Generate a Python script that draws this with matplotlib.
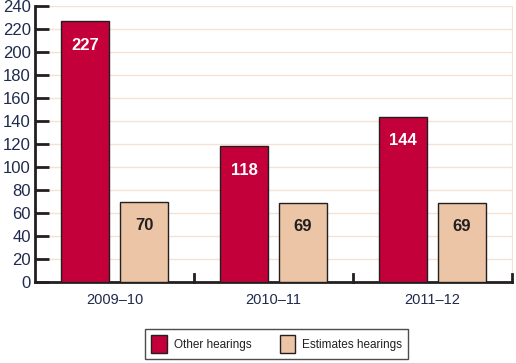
import matplotlib
matplotlib.use("Agg")
import matplotlib.pyplot as plt
import numpy as np

plt.rcParams["font.family"] = ["Liberation Sans", "DejaVu Sans"]

years = ["2009–10", "2010–11", "2011–12"]
other_hearings = [227, 118, 144]
estimates_hearings = [70, 69, 69]

RED = "#c4003a"
PEACH = "#ebc5a5"
GRID = "#f6e2d2"
DARK = "#231f20"
TEXT = "#1f2a4d"

fig = plt.figure(figsize=(5.16, 3.63), dpi=100)
ax = fig.add_axes([0.068, 0.223, 0.924, 0.760])

x = np.arange(len(years))
off, w = 0.185, 0.30
b1 = ax.bar(x - off, other_hearings, w, color=RED, edgecolor=DARK, linewidth=1,
            label="Other hearings", zorder=3)
b2 = ax.bar(x + off, estimates_hearings, w, color=PEACH, edgecolor=DARK, linewidth=1,
            label="Estimates hearings", zorder=3)

# value labels sit just under the top of each bar
for bar, v in zip(b1, other_hearings):
    ax.text(bar.get_x() + bar.get_width() / 2, v - 21, str(v), ha="center", va="center",
            color="white", fontsize=12, fontweight="bold", zorder=4)
for bar, v in zip(b2, estimates_hearings):
    ax.text(bar.get_x() + bar.get_width() / 2, v - 21, str(v), ha="center", va="center",
            color=DARK, fontsize=12, fontweight="bold", zorder=4)

ax.set_xlim(-0.5, 2.5)
ax.set_ylim(0, 240)
ax.set_yticks(range(0, 241, 20))
ax.yaxis.grid(True, color=GRID, linewidth=1, zorder=0)
ax.tick_params(axis="y", direction="in", length=10, width=2, color=DARK,
               labelsize=12, labelcolor=TEXT, pad=3)
ax.set_xticks(x)
ax.set_xticklabels(years)
ax.tick_params(axis="x", length=0, labelsize=10.5, labelcolor=TEXT, pad=8)
for xb in [0.5, 1.5, 2.5]:
    ax.plot([xb, xb], [0, 7], color=DARK, linewidth=2, zorder=5, clip_on=False)

ax.spines["top"].set_visible(False)
ax.spines["right"].set_color(GRID)
ax.spines["left"].set_color(DARK)
ax.spines["left"].set_linewidth(2)
ax.spines["bottom"].set_color(DARK)
ax.spines["bottom"].set_linewidth(2)

leg = fig.legend(loc="center", bbox_to_anchor=(0.536, 0.052), ncol=2, frameon=True,
                 fancybox=False, edgecolor=DARK, fontsize=8.5, handlelength=1.3,
                 handleheight=1.9, handletextpad=0.6, columnspacing=2.4,
                 borderpad=0.55, borderaxespad=0)
leg.get_frame().set_linewidth(1)
for t in leg.get_texts():
    t.set_color(DARK)

fig.savefig("out.png", dpi=100, facecolor="white")
